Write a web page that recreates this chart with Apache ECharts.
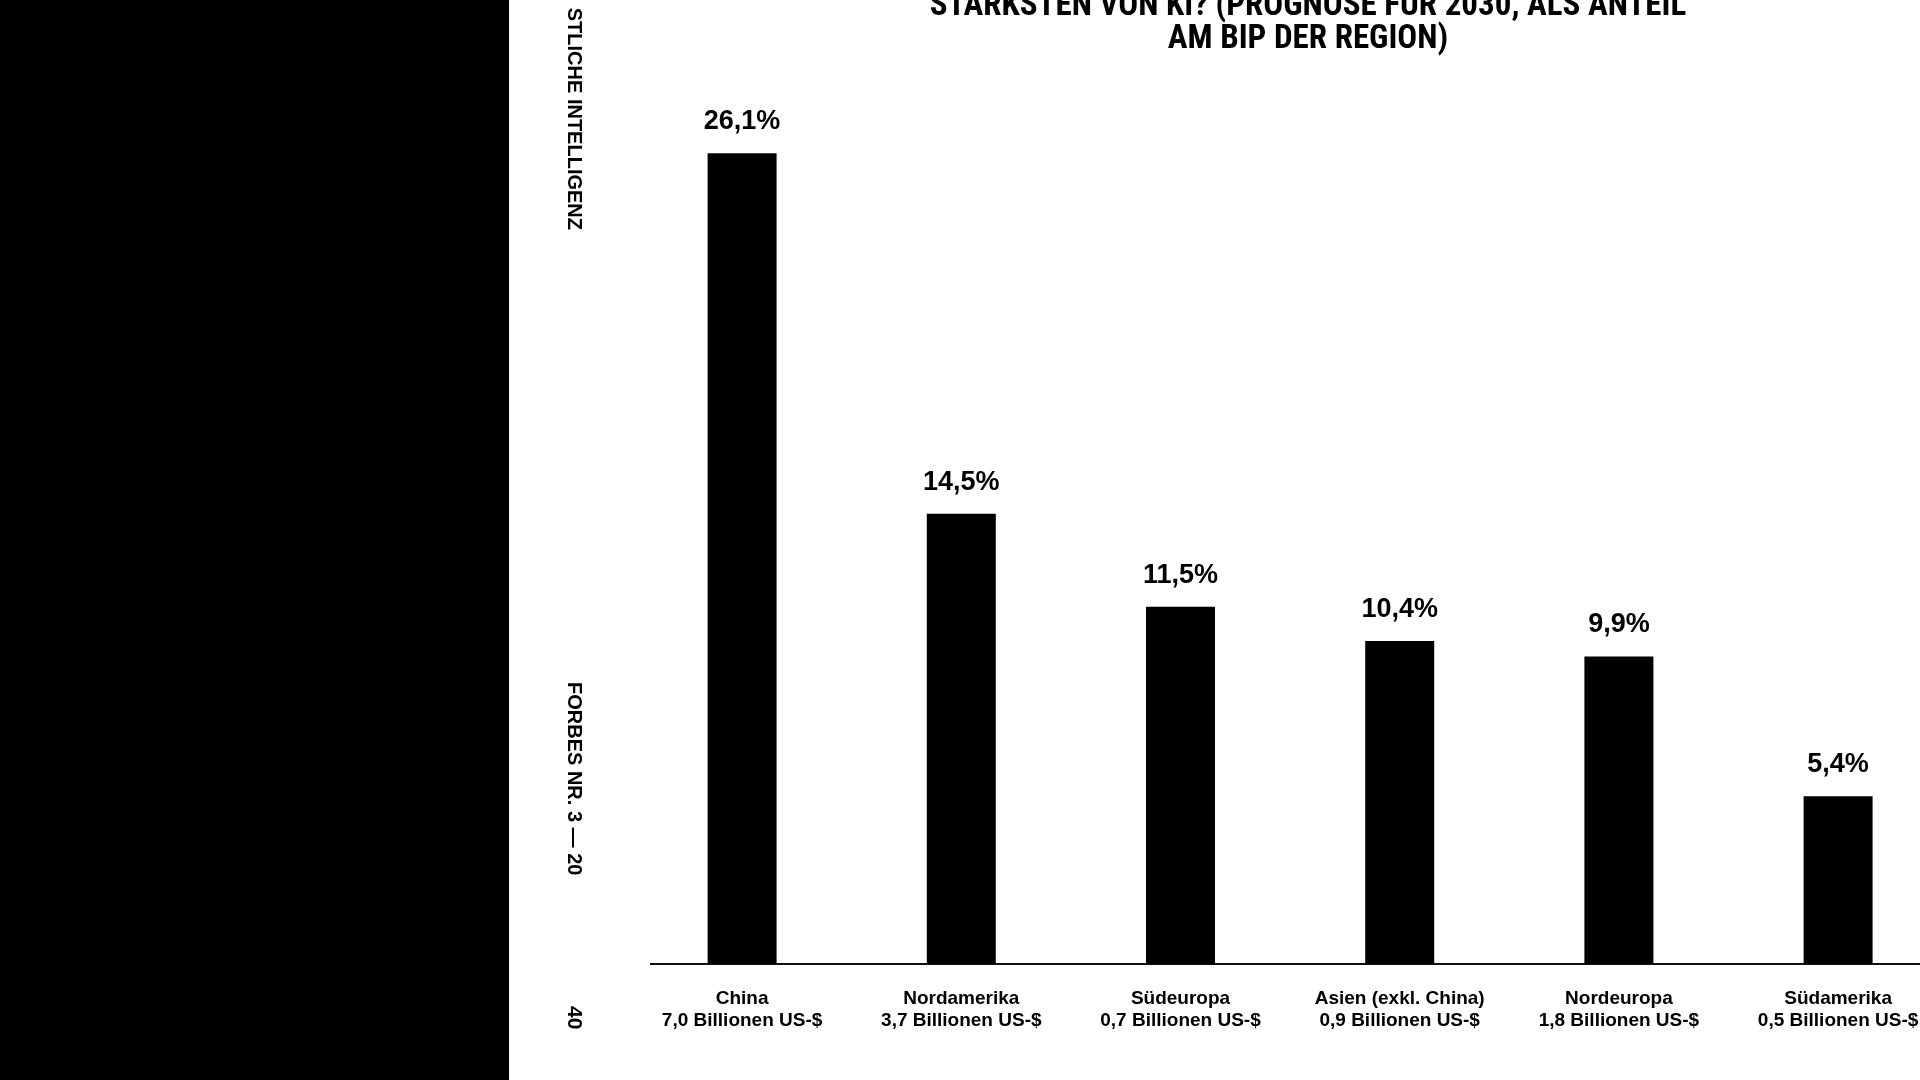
<!DOCTYPE html>
<html>
<head>
<meta charset="utf-8">
<style>
html,body{margin:0;padding:0;background:#fff;}
#chart{width:1920px;height:1080px;}
</style>
<script src="https://cdn.jsdelivr.net/npm/echarts@6/dist/echarts.min.js"></script>
</head>
<body>
<div id="chart"></div>
<script>
// ---- data ----
const regions = ['China', 'Nordamerika', 'Südeuropa', 'Asien (exkl. China)', 'Nordeuropa', 'Südamerika'];
const gdpGain = ['7,0 Billionen US-$', '3,7 Billionen US-$', '0,7 Billionen US-$', '0,9 Billionen US-$', '1,8 Billionen US-$', '0,5 Billionen US-$'];
const sharePct = [26.1, 14.5, 11.5, 10.4, 9.9, 5.4];
const titleLines = ['STÄRKSTEN VON KI? (PROGNOSE FÜR 2030, ALS ANTEIL', 'AM BIP DER REGION)'];
const sideTop = 'STLICHE INTELLIGENZ';
const sideMid = 'FORBES NR. 3 — 20';
const sidePage = '40';

const FONT = '"Liberation Sans", Arial, sans-serif';
const NARROW = '"Liberation Sans Narrow", "Roboto Condensed", "DejaVu Sans Condensed", sans-serif';
const chart = echarts.init(document.getElementById('chart'));
const catLabels = regions.map((r, i) => r + '\n' + gdpGain[i]);

chart.setOption({
  animation: false,
  backgroundColor: '#ffffff',
  grid: { left: 632.5, width: 1315.2, top: 32.2, bottom: 116, outerBoundsMode: 'none', containLabel: false },
  xAxis: {
    type: 'category',
    data: catLabels,
    axisLine: { show: false },
    axisTick: { show: false },
    axisLabel: {
      interval: 0,
      margin: 24,
      color: '#000',
      fontFamily: FONT,
      fontWeight: 'bold',
      fontSize: 19,
      lineHeight: 22
    }
  },
  yAxis: {
    type: 'value',
    min: 0,
    max: 30,
    show: false,
    splitLine: { show: false }
  },
  series: [{
    type: 'bar',
    data: sharePct,
    barWidth: 69,
    itemStyle: { color: '#000' },
    label: {
      show: true,
      position: 'top',
      distance: 18,
      color: '#000',
      fontFamily: FONT,
      fontWeight: 'bold',
      fontSize: 27,
      formatter: p => String(p.value).replace('.', ',') + '%'
    }
  }],
  graphic: [
    { type: 'rect', shape: { x: 0, y: 0, width: 509, height: 1080 }, style: { fill: '#000' }, silent: true },
    { type: 'line', shape: { x1: 650, y1: 964, x2: 1920, y2: 964 }, style: { stroke: '#111', lineWidth: 2 }, silent: true },
    { type: 'text', x: 1308, y: 23, style: {
        text: titleLines.join('\n'), fill: '#000', font: 'bold 33px ' + NARROW,
        lineHeight: 33, textAlign: 'center', textVerticalAlign: 'middle' } },
    { type: 'text', x: 574, y: 230, rotation: -Math.PI / 2, style: {
        text: sideTop, fill: '#000', font: 'bold 20px ' + FONT,
        textAlign: 'right', textVerticalAlign: 'middle' } },
    { type: 'text', x: 574, y: 682, rotation: -Math.PI / 2, style: {
        text: sideMid, fill: '#000', font: 'bold 20px ' + FONT,
        textAlign: 'left', textVerticalAlign: 'middle' } },
    { type: 'text', x: 574, y: 1006, rotation: -Math.PI / 2, style: {
        text: sidePage, fill: '#000', font: 'bold 21px ' + FONT,
        textAlign: 'left', textVerticalAlign: 'middle' } }
  ]
});
</script>
</body>
</html>
